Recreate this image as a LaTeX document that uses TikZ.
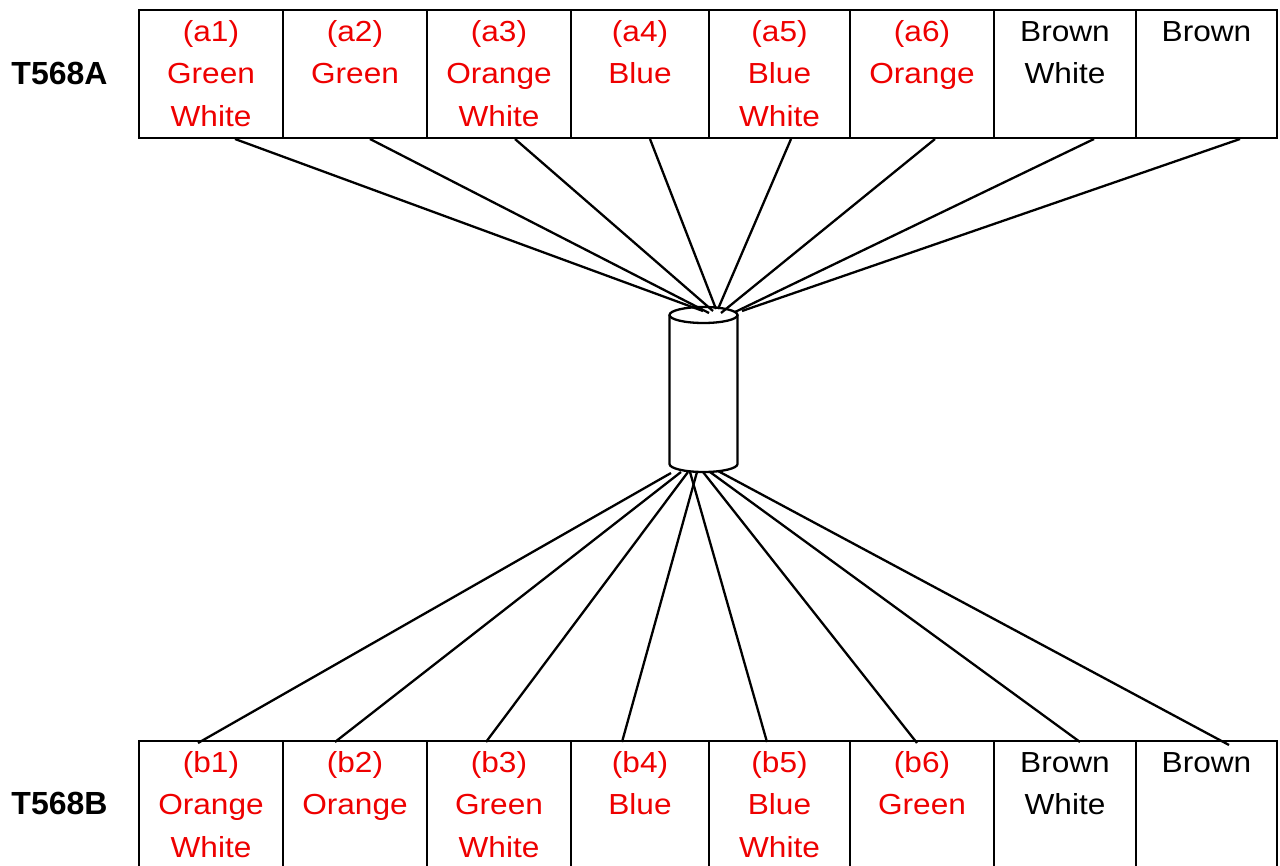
\documentclass[tikz,border=0pt]{standalone}
\usepackage{fontspec}
\setmainfont[FakeStretch=1.09]{Liberation Sans}
\newfontfamily\lblfont{Liberation Sans}
\begin{document}
\begin{tikzpicture}[x=1pt,y=-1pt,
  wire/.style={line width=2.3pt},
  cell/.style={draw, line width=2.4pt, inner sep=0pt, outer sep=0pt, anchor=north west},
  txt/.style={anchor=base, inner sep=0pt, font=\fontsize{29}{32}\selectfont},
  hot/.style={txt, text={rgb,255:red,238;green,0;blue,0}},
  plain/.style={txt, text=black},
  std/.style={anchor=base, inner sep=0pt, font=\lblfont\fontsize{32}{36}\selectfont\bfseries}]
\useasboundingbox (0,0) rectangle (1280,866);
\clip (0,0) rectangle (1280,866);

% ---------- top row (T568A) ----------
\node[cell, minimum width=144pt, minimum height=128.3pt] (A1) at (139,10) {};
\node[cell, minimum width=144pt, minimum height=128.3pt] (A2) at (283,10) {};
\node[cell, minimum width=144pt, minimum height=128.3pt] (A3) at (427,10) {};
\node[cell, minimum width=138pt, minimum height=128.3pt] (A4) at (571,10) {};
\node[cell, minimum width=141pt, minimum height=128.3pt] (A5) at (709,10) {};
\node[cell, minimum width=144pt, minimum height=128.3pt] (A6) at (850,10) {};
\node[cell, minimum width=142pt, minimum height=128.3pt] (A7) at (994,10) {};
\node[cell, minimum width=141pt, minimum height=128.3pt] (A8) at (1136,10) {};

% ---------- bottom row (T568B) ----------
\node[cell, minimum width=144pt, minimum height=150pt] (B1) at (139,741) {};
\node[cell, minimum width=144pt, minimum height=150pt] (B2) at (283,741) {};
\node[cell, minimum width=144pt, minimum height=150pt] (B3) at (427,741) {};
\node[cell, minimum width=138pt, minimum height=150pt] (B4) at (571,741) {};
\node[cell, minimum width=141pt, minimum height=150pt] (B5) at (709,741) {};
\node[cell, minimum width=144pt, minimum height=150pt] (B6) at (850,741) {};
\node[cell, minimum width=142pt, minimum height=150pt] (B7) at (994,741) {};
\node[cell, minimum width=141pt, minimum height=150pt] (B8) at (1136,741) {};

% ---------- row labels ----------
\node[std] (LA) at (59.5,84.3) {T568A};
\node[std] (LB) at (59.5,814.3) {T568B};

% ---------- texts, top ----------
\node[hot] (A1x) at (211,42) {(a1)};
\node[hot] (A1y) at (211,83.5) {Green};
\node[hot] (A1z) at (211,126.5) {White};
\node[hot] (A2x) at (355,42) {(a2)};
\node[hot] (A2y) at (355,83.5) {Green};
\node[hot] (A3x) at (499,42) {(a3)};
\node[hot] (A3y) at (499,83.5) {Orange};
\node[hot] (A3z) at (499,126.5) {White};
\node[hot] (A4x) at (640,42) {(a4)};
\node[hot] (A4y) at (640,83.5) {Blue};
\node[hot] (A5x) at (779.5,42) {(a5)};
\node[hot] (A5y) at (779.5,83.5) {Blue};
\node[hot] (A5z) at (779.5,126.5) {White};
\node[hot] (A6x) at (922,42) {(a6)};
\node[hot] (A6y) at (922,83.5) {Orange};
\node[plain] (A7x) at (1065,42) {Brown};
\node[plain] (A7y) at (1065,83.5) {White};
\node[plain] (A8x) at (1206.5,42) {Brown};

% ---------- texts, bottom ----------
\node[hot] (B1x) at (211,772) {(b1)};
\node[hot] (B1y) at (211,814.5) {Orange};
\node[hot] (B1z) at (211,857) {White};
\node[hot] (B2x) at (355,772) {(b2)};
\node[hot] (B2y) at (355,814.5) {Orange};
\node[hot] (B3x) at (499,772) {(b3)};
\node[hot] (B3y) at (499,814.5) {Green};
\node[hot] (B3z) at (499,857) {White};
\node[hot] (B4x) at (640,772) {(b4)};
\node[hot] (B4y) at (640,814.5) {Blue};
\node[hot] (B5x) at (779.5,772) {(b5)};
\node[hot] (B5y) at (779.5,814.5) {Blue};
\node[hot] (B5z) at (779.5,857) {White};
\node[hot] (B6x) at (922,772) {(b6)};
\node[hot] (B6y) at (922,814.5) {Green};
\node[plain] (B7x) at (1065,772) {Brown};
\node[plain] (B7y) at (1065,814.5) {White};
\node[plain] (B8x) at (1206.5,772) {Brown};

% ---------- cable (cylinder) ----------
\draw[wire] (703.5,315) ellipse (34 and 8);
\draw[wire] (669.5,315) -- (669.5,464) arc (180:0:34 and 8) -- (737.5,315);

% ---------- wire end points ----------
\coordinate (pA1) at (235,139);  \coordinate (cA1) at (703,311);
\coordinate (pA2) at (370,139);  \coordinate (cA2) at (709,313);
\coordinate (pA3) at (515,139);  \coordinate (cA3) at (713,311);
\coordinate (pA4) at (650,139);  \coordinate (cA4) at (716,309);
\coordinate (pA5) at (791,139);  \coordinate (cA5) at (718,309);
\coordinate (pA6) at (935,139);  \coordinate (cA6) at (721,313);
\coordinate (pA7) at (1094,139); \coordinate (cA7) at (735,312);
\coordinate (pA8) at (1240,139); \coordinate (cA8) at (742,311);

\coordinate (pB1) at (198,743);  \coordinate (cB1) at (671,473);
\coordinate (pB2) at (335,742);  \coordinate (cB2) at (681,472);
\coordinate (pB3) at (486,742);  \coordinate (cB3) at (688,472);
\coordinate (pB4) at (622,742);  \coordinate (cB4) at (697,472);
\coordinate (pB5) at (767,742);  \coordinate (cB5) at (690,472);
\coordinate (pB6) at (917,743);  \coordinate (cB6) at (703,472);
\coordinate (pB7) at (1080,742); \coordinate (cB7) at (710,472);
\coordinate (pB8) at (1229,745); \coordinate (cB8) at (718,471);

\foreach \k in {A1,A2,A3,A4,A5,A6,A7,A8,B1,B2,B3,B4,B5,B6,B7,B8}
  \draw[wire] (p\k) -- (c\k);
\end{tikzpicture}
\end{document}
